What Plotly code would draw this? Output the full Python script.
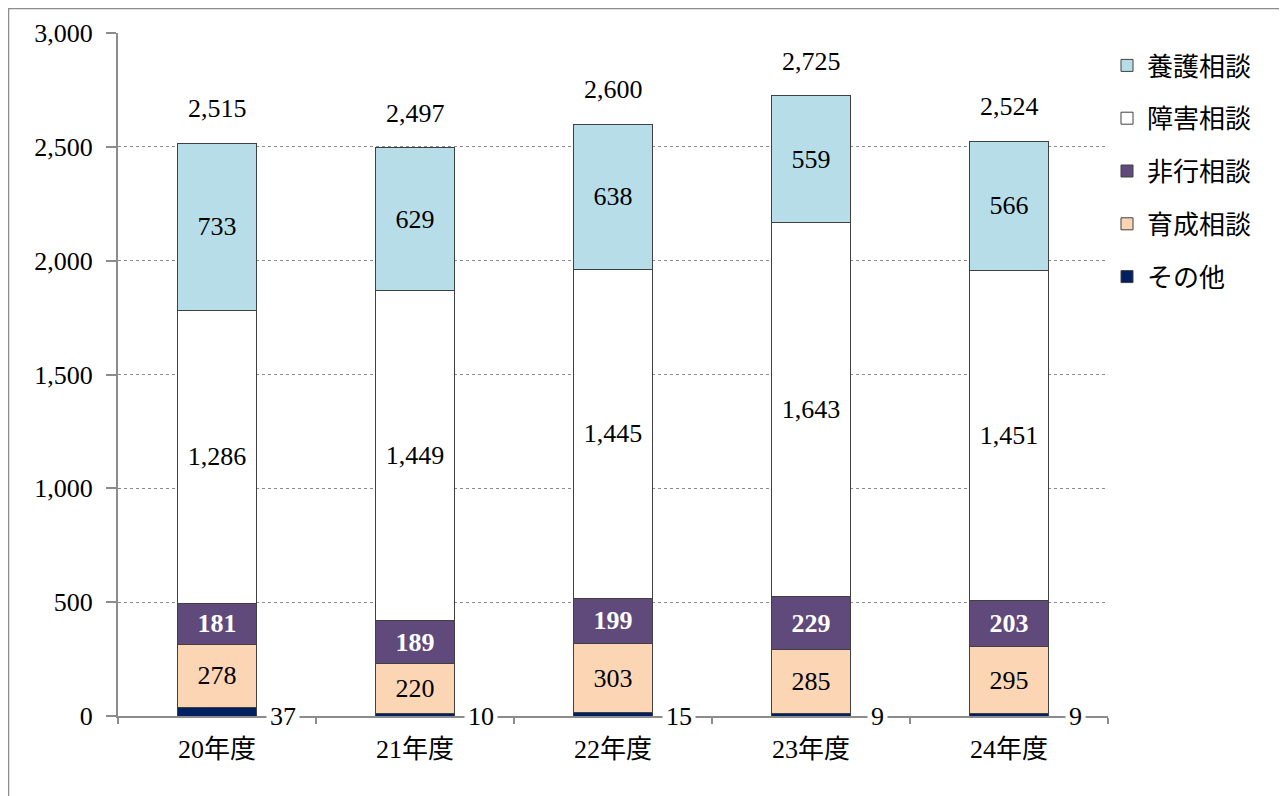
import plotly.graph_objects as go

categories = ["20年度", "21年度", "22年度", "23年度", "24年度"]
sonota = [37, 10, 15, 9, 9]
ikusei = [278, 220, 303, 285, 295]
hikou = [181, 189, 199, 229, 203]
shougai = [1286, 1449, 1445, 1643, 1451]
yougo = [733, 629, 638, 559, 566]

FS = 26
series = [
    ("その他", sonota, "#002060", None, 5),
    ("育成相談", ikusei, "#FCD5B5", dict(color="black", size=FS), 4),
    ("非行相談", hikou, "#604A7B", dict(color="white", size=FS, weight="bold"), 3),
    ("障害相談", shougai, "#FFFFFF", dict(color="black", size=FS), 2),
    ("養護相談", yougo, "#B7DEE8", dict(color="black", size=FS), 1),
]

SERIF = "Liberation Serif, Noto Sans CJK JP, serif"

fig = go.Figure()
for name, vals, col, tf, rank in series:
    if tf is not None:
        kw = dict(
            text=[f"{v:,}" for v in vals],
            textposition="inside",
            insidetextanchor="middle",
            textangle=0,
            constraintext="none",
            textfont=dict(family=SERIF, **tf),
        )
    else:
        kw = dict(textposition="none")
    fig.add_trace(go.Bar(
        name=name, x=categories, y=vals, legendgroup=name, legendrank=rank,
        marker=dict(color=col, line=dict(color="#404040", width=1)),
        width=0.4, hoverinfo="skip", **kw,
    ))

totals = [a + b + c + d + e for a, b, c, d, e in zip(sonota, ikusei, hikou, shougai, yougo)]
for i, t in enumerate(totals):
    fig.add_annotation(x=i, y=t, text=f"{t:,}", showarrow=False, xref="x", yref="y",
                       yanchor="bottom", yshift=18,
                       font=dict(family=SERIF, size=FS, color="black"))
for i, v in enumerate(sonota):
    fig.add_annotation(x=i + 0.335, y=0, text=f"{v:,}", showarrow=False, xref="x", yref="y",
                       yanchor="middle", bgcolor="white", borderpad=3,
                       font=dict(family=SERIF, size=FS, color="black"))

# outer chart border (plot area: left 110, width 990, top 25, height 683 in figure px)
L, W, T, H = 110, 990, 25, 683
def px(xp):
    return (xp - L) / W
def py(yp):
    return (T + H - yp) / H
fig.add_shape(type="rect", xref="paper", yref="paper",
              x0=px(0.5), x1=px(1278), y0=py(820), y1=py(0.5),
              line=dict(color="#8C8C8C", width=1.5), layer="below")

fig.update_layout(
    barmode="stack",
    width=1279, height=788,
    margin=dict(l=110, r=179, t=25, b=80, autoexpand=False),
    paper_bgcolor="white", plot_bgcolor="white",
    font=dict(family=SERIF, size=FS, color="black"),
    bargap=0.6,
    legend=dict(traceorder="grouped", x=px(1099), xanchor="left", y=py(34), yanchor="top",
                font=dict(family="Noto Sans CJK JP", size=26, color="black"),
                tracegroupgap=16, itemwidth=30, bgcolor="rgba(0,0,0,0)"),
    showlegend=True,
)
fig.update_yaxes(range=[0, 3000], dtick=500, tickformat=",", showgrid=True,
                 gridcolor="#8C8C8C", griddash="dot", gridwidth=1,
                 showline=True, linecolor="#8C8C8C", linewidth=2,
                 ticks="outside", ticklen=10, tickcolor="#8C8C8C", tickwidth=2,
                 zeroline=False, tickfont=dict(family=SERIF, size=FS), ticklabelstandoff=8)
fig.update_xaxes(showline=True, linecolor="#8C8C8C", linewidth=2,
                 ticks="outside", tickson="boundaries", ticklen=6, tickcolor="#8C8C8C",
                 tickwidth=2, tickfont=dict(family=SERIF, size=FS), ticklabelstandoff=9)

fig.write_html("out.html")
